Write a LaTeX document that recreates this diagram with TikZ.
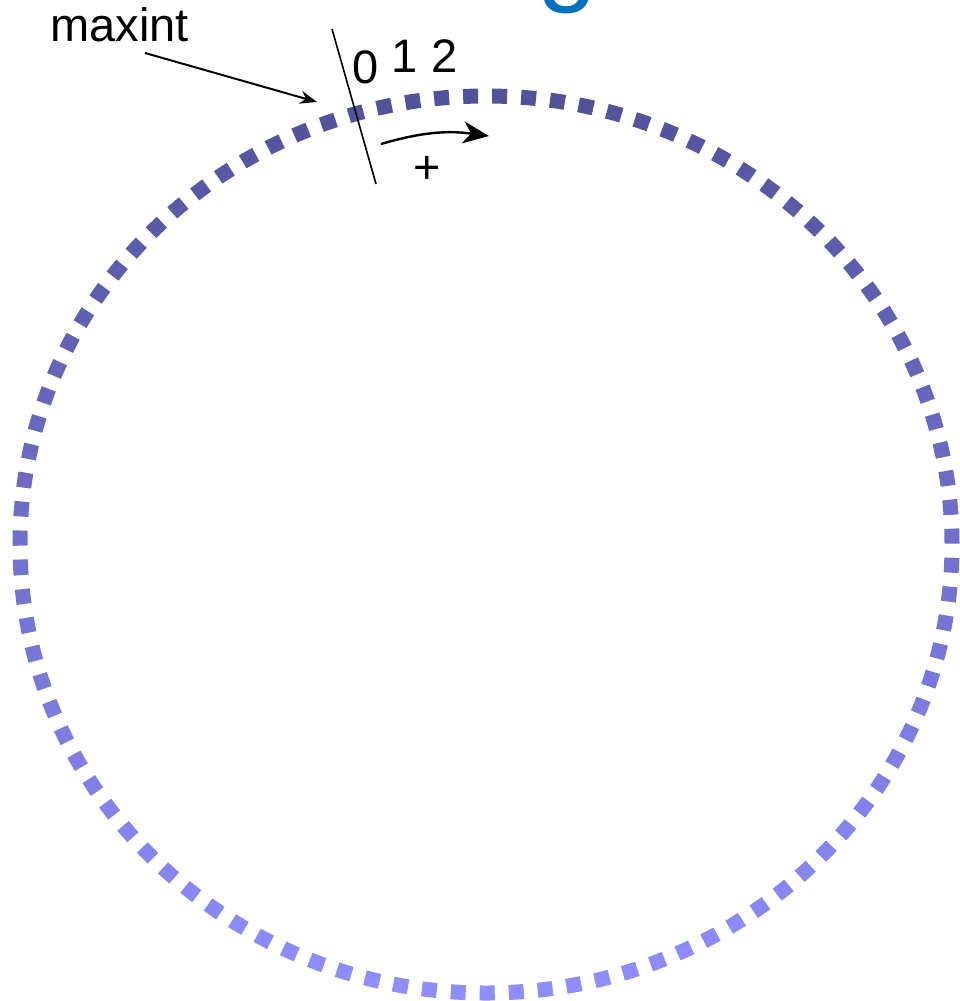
\documentclass[tikz,border=0pt]{standalone}
\usepackage{fontspec}
\setmainfont{Liberation Sans}
\usetikzlibrary{arrows.meta}
\definecolor{topc}{RGB}{82,82,155}
\definecolor{botc}{RGB}{142,142,255}
\definecolor{titleblue}{RGB}{0,112,192}
\begin{document}
\begin{tikzpicture}[x=0.5pt,y=-0.5pt,
  lbl/.style={font=\fontsize{23.5}{28}\selectfont, inner sep=0pt, text=black},
  ring/.style={line width=7.5pt, dash pattern=on 7.5pt off 7.01pt},
  pointer/.style={line width=1pt, -{Stealth[length=8.5pt,width=6.5pt]}},
  turn/.style={line width=1.2pt, -{Stealth[length=13pt,width=11pt,inset=4pt]}},
  tick/.style={line width=0.8pt}]
\useasboundingbox (0,0) rectangle (959,1001);
\coordinate (C) at (486,544.5);
\foreach \k in {0,...,29}{
  \pgfmathsetmacro{\ya}{80+\k*31}
  \pgfmathsetmacro{\yb}{\ya+31}
  \pgfmathsetmacro{\p}{max(0,min(100,(\ya+15.5-96)/(993-96)*100))}
  \colorlet{bandc}{botc!\p!topc}
  \begin{scope}
    \clip (-10,\ya) rectangle (970,\yb);
    \draw[ring, bandc] (C) ++(178:466 and 448.5) arc[start angle=178, end angle=-182, x radius=466, y radius=448.5];
  \end{scope}
}
\node[lbl, anchor=base west] (maxint) at (50,41) {maxint};
\node[lbl, anchor=base] (n0) at (366,83) {0};
\node[lbl, anchor=base] (n1) at (405,72) {1};
\node[lbl, anchor=base] (n2) at (445,72) {2};
\node[lbl, anchor=base] (plus) at (427,183) {+};
\node[font=\fontsize{54}{60}\selectfont, text=titleblue, inner sep=0pt, anchor=base west] (title) at (537,-9) {g};
\coordinate (t1) at (332,29);
\coordinate (t2) at (376,184);
\draw[tick] (t1) -- (t2);
\coordinate (ms) at (145,53);
\coordinate (me) at (317,102);
\draw[pointer] (ms) -- (me);
\coordinate (ps) at (381,144);
\coordinate (pe) at (489,136);
\draw[turn] (ps) to[bend left=12] (pe);
\end{tikzpicture}
\end{document}
